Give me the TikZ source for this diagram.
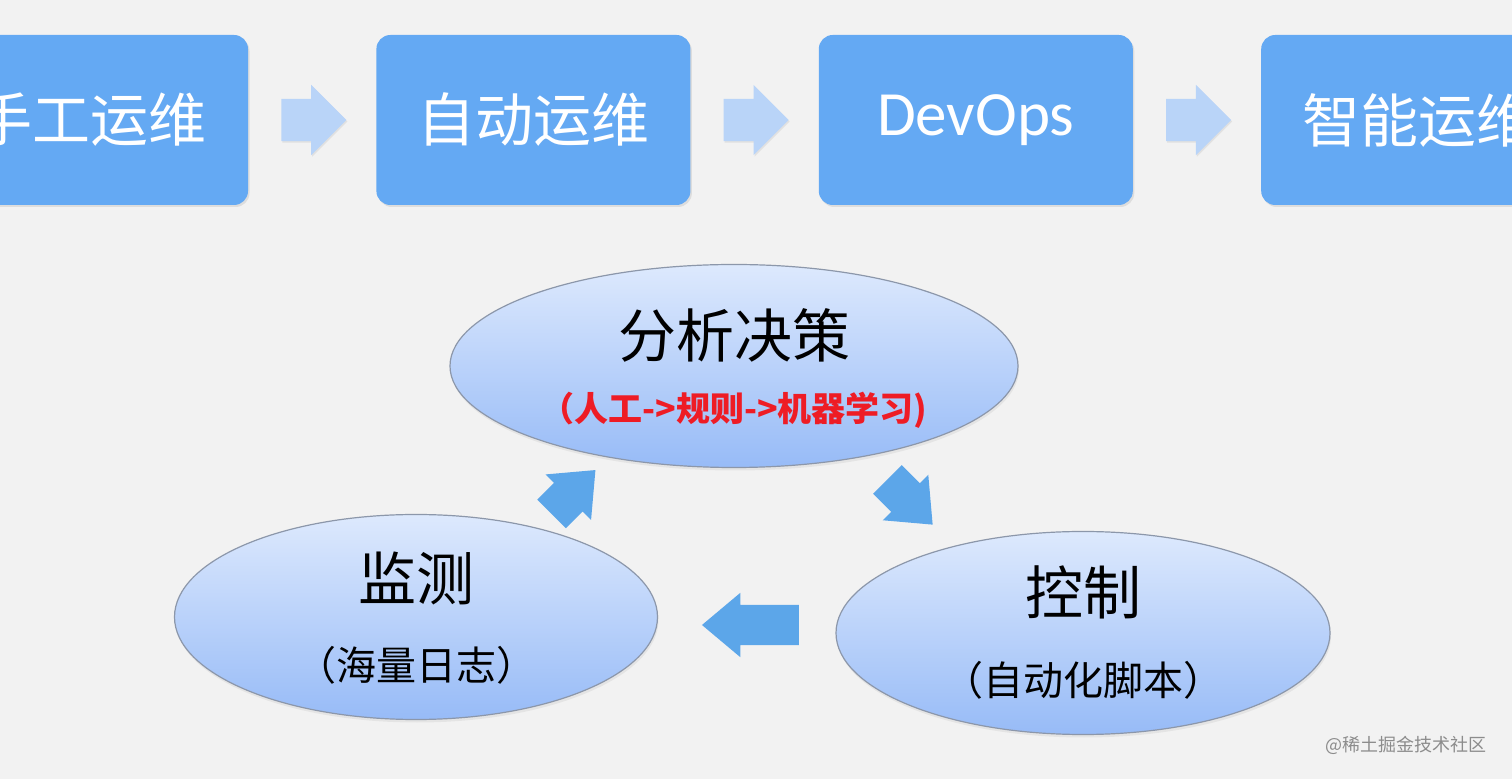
\documentclass[tikz,border=0pt]{standalone}
\usepackage{fontspec}
\setmainfont{Carlito}
\newfontfamily\cjk{Noto Sans CJK SC}
\usetikzlibrary{positioning, calc, shapes.geometric, shapes.arrows, shadows}

\definecolor{paper}{HTML}{F2F2F2}
\definecolor{stageblue}{HTML}{64A9F3}
\definecolor{hopblue}{HTML}{B9D4F8}
\definecolor{cycleblue}{HTML}{5CA6E9}
\definecolor{ovaltop}{HTML}{DDE9FD}
\definecolor{ovalbottom}{HTML}{97BBF7}
\definecolor{ovalline}{HTML}{8C97AA}
\definecolor{notered}{HTML}{EE1C25}

\begin{document}
\begin{tikzpicture}[
    x=1pt, y=1pt,
    node distance=0pt and 128pt,
    stage/.style={rectangle, rounded corners=14pt, fill=stageblue, minimum width=314pt, minimum height=170pt, text=white, font=\cjk\fontsize{58}{60}\selectfont, drop shadow={opacity=0.18, shadow xshift=1.5pt, shadow yshift=-2pt}},
    hop/.style={single arrow, fill=hopblue, inner xsep=0pt, inner ysep=21pt, minimum height=65pt, single arrow head extend=14pt, drop shadow={opacity=0.15, shadow xshift=1pt, shadow yshift=-1.5pt}},
    phase/.style={ellipse, draw=ovalline, line width=1.2pt, top color=ovaltop, bottom color=ovalbottom, inner sep=0pt, drop shadow={opacity=0.12, shadow xshift=1pt, shadow yshift=-3pt}},
    cyclearrow/.style={single arrow, fill=cycleblue, inner xsep=0pt, inner ysep=20pt, single arrow head extend=12pt, single arrow tip angle=80},
    title/.style={font=\cjk\fontsize{58}{60}\selectfont},
    note/.style={font=\cjk\fontsize{40}{42}\selectfont},
]
    \useasboundingbox (0,0) rectangle (1512,779);
    \fill[paper] (0,0) rectangle (1512,779);
    \clip (0,0) rectangle (1512,779);

    % Evolution stages
    \node[stage] (manual) at (91,659) {手工运维};
    \node[stage, right=of manual] (auto) {自动运维};
    \node[stage, right=of auto, font=\fontsize{63}{65}\selectfont] (devops) {DevOps};
    \node[stage, right=of devops] (aiops) {智能运维};

    \node[hop] (hop1) at ($(manual.east)!0.5!(auto.west)+(-9,0)$) {};
    \node[hop] (hop2) at ($(auto.east)!0.5!(devops.west)+(-9,0)$) {};
    \node[hop] (hop3) at ($(devops.east)!0.5!(aiops.west)+(-9,0)$) {};

    % Closed loop
    \node[phase, minimum width=568pt, minimum height=203pt] (analysis) at (734,413) {};
    \node[phase, minimum width=483pt, minimum height=205pt] (monitor) at (416,162) {};
    \node[phase, minimum width=494pt, minimum height=203pt] (control) at (1083,146) {};

    \node[title] (analysistxt) at ([yshift=31pt]analysis.center) {分析决策};
    \node[font=\cjk\bfseries\fontsize{34}{36}\selectfont, text=notered] (analysisnote) at ([yshift=-44pt]analysis.center) {（人工->规则->机器学习)};
    \node[title] (monitortxt) at ([yshift=39pt]monitor.center) {监测};
    \node[note] (monitornote) at ([yshift=-48pt]monitor.center) {（海量日志）};
    \node[title] (controltxt) at ([yshift=41pt]control.center) {控制};
    \node[note] (controlnote) at ([yshift=-47pt]control.center) {（自动化脚本）};

    % Arrows
    \node[cyclearrow, minimum height=62pt, rotate=45] (up) at ($(monitor)!0.5!(analysis)+(-10,-9)$) {};
    \node[cyclearrow, minimum height=64pt, rotate=-45] (down) at ($(analysis)!0.5!(control)+(-7,6)$) {};
    \node[cyclearrow, minimum height=97pt, rotate=180] (back) at ($(control)!0.5!(monitor)+(13,0)$) {};

    \node[anchor=east, font=\cjk\fontsize{18}{20}\selectfont, text=black!45] (mark) at (1490,34) {@稀土掘金技术社区};
\end{tikzpicture}
\end{document}
